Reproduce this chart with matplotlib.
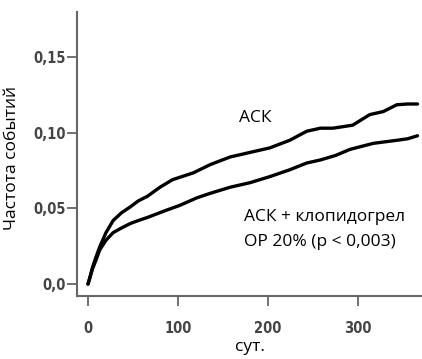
import matplotlib
matplotlib.use("Agg")
import matplotlib.pyplot as plt

# ==========================================================
# Data
# ==========================================================

days_ask = [0, 2, 5, 9, 13, 20, 28, 37, 47, 56, 66, 80, 94, 117, 136, 158, 180,
            202, 224, 243, 258, 272, 294, 313, 328, 343, 355, 366]
rate_ask = [0.0, 0.004, 0.011, 0.018, 0.0245, 0.034, 0.042, 0.047, 0.051, 0.055,
            0.058, 0.064, 0.069, 0.0735, 0.079, 0.084, 0.087, 0.090, 0.095,
            0.101, 0.103, 0.103, 0.105, 0.112, 0.114, 0.1185, 0.119, 0.119]

days_combo = [0, 2, 5, 9, 13, 20, 28, 37, 47, 56, 66, 88, 102, 121, 136, 158,
              180, 202, 224, 243, 258, 275, 291, 317, 343, 355, 366]
rate_combo = [0.0, 0.004, 0.010, 0.016, 0.0225, 0.029, 0.034, 0.037, 0.040,
              0.042, 0.044, 0.049, 0.052, 0.057, 0.060, 0.064, 0.067, 0.071,
              0.0755, 0.080, 0.082, 0.085, 0.089, 0.093, 0.095, 0.096, 0.098]

x_ticks = [0, 100, 200, 300]
x_tick_labels = ["0", "100", "200", "300"]
y_ticks = [0.0, 0.05, 0.10, 0.15]
y_tick_labels = ["0,0", "0,05", "0,10", "0,15"]

# ==========================================================
# Figure
# ==========================================================

fig = plt.figure(figsize=(4.22, 3.59), dpi=100)
ax = fig.add_axes([77 / 422, 1 - 296 / 359, 1 - 77 / 422, (296 - 12) / 359])

ax.plot(days_ask, rate_ask, color="black", lw=2.4, solid_capstyle="round")
ax.plot(days_combo, rate_combo, color="black", lw=2.4, solid_capstyle="round")

ax.set_xlim(-12.2, 371)
ax.set_ylim(-0.0079, 0.1798)

for side in ["top", "right"]:
    ax.spines[side].set_visible(False)
for side in ["left", "bottom"]:
    ax.spines[side].set_color("#666666")
    ax.spines[side].set_linewidth(1.5)

tick_font = ["DejaVu Sans"]
ax.set_xticks(x_ticks)
ax.set_xticklabels(x_tick_labels, family=tick_font, fontweight="bold",
                   fontstretch="condensed", fontsize=10.5, color="#444444")
ax.set_yticks(y_ticks)
ax.set_yticklabels(y_tick_labels, family=tick_font, fontweight="bold",
                   fontstretch="condensed", fontsize=10.5, color="#444444")
ax.tick_params(axis="x", length=7, width=1.3, color="#666666", pad=11)
ax.tick_params(axis="y", length=7, width=1.3, color="#666666", pad=1)

label_font = ["Open Sans", "DejaVu Sans"]
ax.set_xlabel("сут.", family=label_font, fontsize=12.5, labelpad=2)
fig.text(12 / 422, 1 - 158 / 359, "Частота событий", family=label_font,
         fontsize=12.5, rotation=90, ha="center", va="center")

ax.text(168, 0.1095, "АСК", family=label_font, fontsize=12.5, va="center")
ax.text(173, 0.0445, "АСК + клопидогрел", family=label_font, fontsize=12.5,
        va="center")
ax.text(173, 0.0275, "ОР 20% (р < 0,003)", family=label_font, fontsize=12.5,
        va="center")

fig.savefig("out.png", dpi=100)
